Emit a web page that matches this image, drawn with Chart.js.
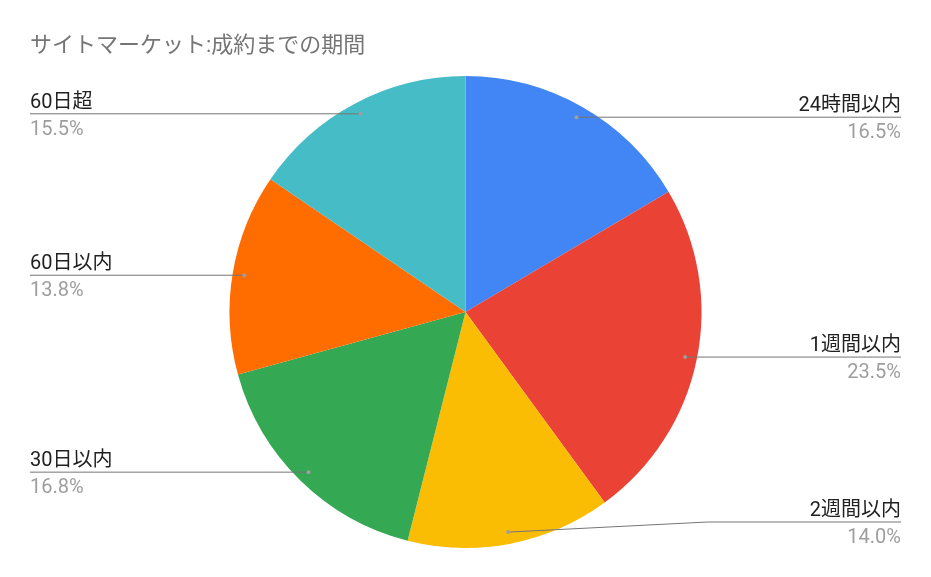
<!DOCTYPE html>
<html>
<head>
<meta charset="utf-8">
<script src="https://cdn.jsdelivr.net/npm/chart.js@4"></script>
<style>
	body { margin: 0; background: #fff; }
	#wrap { width: 931px; height: 577px; position: relative; }
</style>
</head>
<body>
<div id="wrap"><canvas id="pieChart"></canvas></div>
<script>
// 데이터
const chartTitle = 'サイトマーケット:成約までの期間';
const periodLabels = ['24時間以内', '1週間以内', '2週間以内', '30日以内', '60日以内', '60日超'];
const periodValues = [16.5, 23.5, 14.0, 16.8, 13.8, 15.5];
const sliceColors = ['#4285F4', '#EA4335', '#FBBC04', '#34A853', '#FF6D01', '#46BDC6'];

const FONT = "Roboto, 'Noto Sans CJK JP', sans-serif";

// 제목 + 라벨(리더 라인) 그리기
const labelPlugin = {
	id: 'sideLabels',
	afterDraw(chart) {
		const ctx = chart.ctx;
		const meta = chart.getDatasetMeta(0);
		const leftX = 30;
		const rightX = chart.width - 30;

		ctx.save();
		// 제목
		ctx.font = '22px ' + FONT;
		ctx.fillStyle = '#757575';
		ctx.textAlign = 'left';
		ctx.textBaseline = 'alphabetic';
		ctx.fillText(chartTitle, leftX, 52);

		meta.data.forEach((arc, i) => {
			const p = arc.getProps(['x', 'y', 'startAngle', 'endAngle', 'outerRadius'], true);
			const mid = (p.startAngle + p.endAngle) / 2;
			const r = p.outerRadius * 0.95;
			const dx = p.x + Math.cos(mid) * r;
			const dy = p.y + Math.sin(mid) * r;
			const right = Math.cos(mid) > 0;
			const maxY = p.y + p.outerRadius - 26;
			const lineY = Math.min(dy, maxY);

			// 리더 라인
			ctx.strokeStyle = '#757575';
			ctx.lineWidth = 1;
			ctx.beginPath();
			ctx.moveTo(dx, dy);
			if (right) {
				const bendX = p.x + p.outerRadius + 6;
				if (Math.abs(lineY - dy) > 0.5) ctx.lineTo(bendX, lineY);
				ctx.lineTo(rightX, lineY);
			} else {
				const bendX = p.x - p.outerRadius - 6;
				if (Math.abs(lineY - dy) > 0.5) ctx.lineTo(bendX, lineY);
				ctx.lineTo(leftX, lineY);
			}
			ctx.stroke();

			// 점
			ctx.fillStyle = '#9e9e9e';
			ctx.beginPath();
			ctx.arc(dx, dy, 2, 0, Math.PI * 2);
			ctx.fill();

			// 텍스트
			ctx.textAlign = right ? 'right' : 'left';
			const tx = right ? rightX : leftX;
			ctx.font = '20px ' + FONT;
			ctx.fillStyle = '#212121';
			ctx.fillText(periodLabels[i], tx, lineY - 6);
			ctx.fillStyle = '#9e9e9e';
			ctx.fillText(periodValues[i].toFixed(1) + '%', tx, lineY + 21);
		});
		ctx.restore();
	}
};

new Chart(document.getElementById('pieChart').getContext('2d'), {
	type: 'pie',
	data: {
		labels: periodLabels,
		datasets: [{
			data: periodValues,
			backgroundColor: sliceColors,
			borderWidth: 0
		}]
	},
	options: {
		responsive: true,
		maintainAspectRatio: false,
		animation: false,
		layout: { padding: { top: 76, bottom: 29, left: 0, right: 0 } },
		plugins: {
			legend: { display: false },
			title: { display: false },
			tooltip: { enabled: false }
		}
	},
	plugins: [labelPlugin]
});
</script>
</body>
</html>
